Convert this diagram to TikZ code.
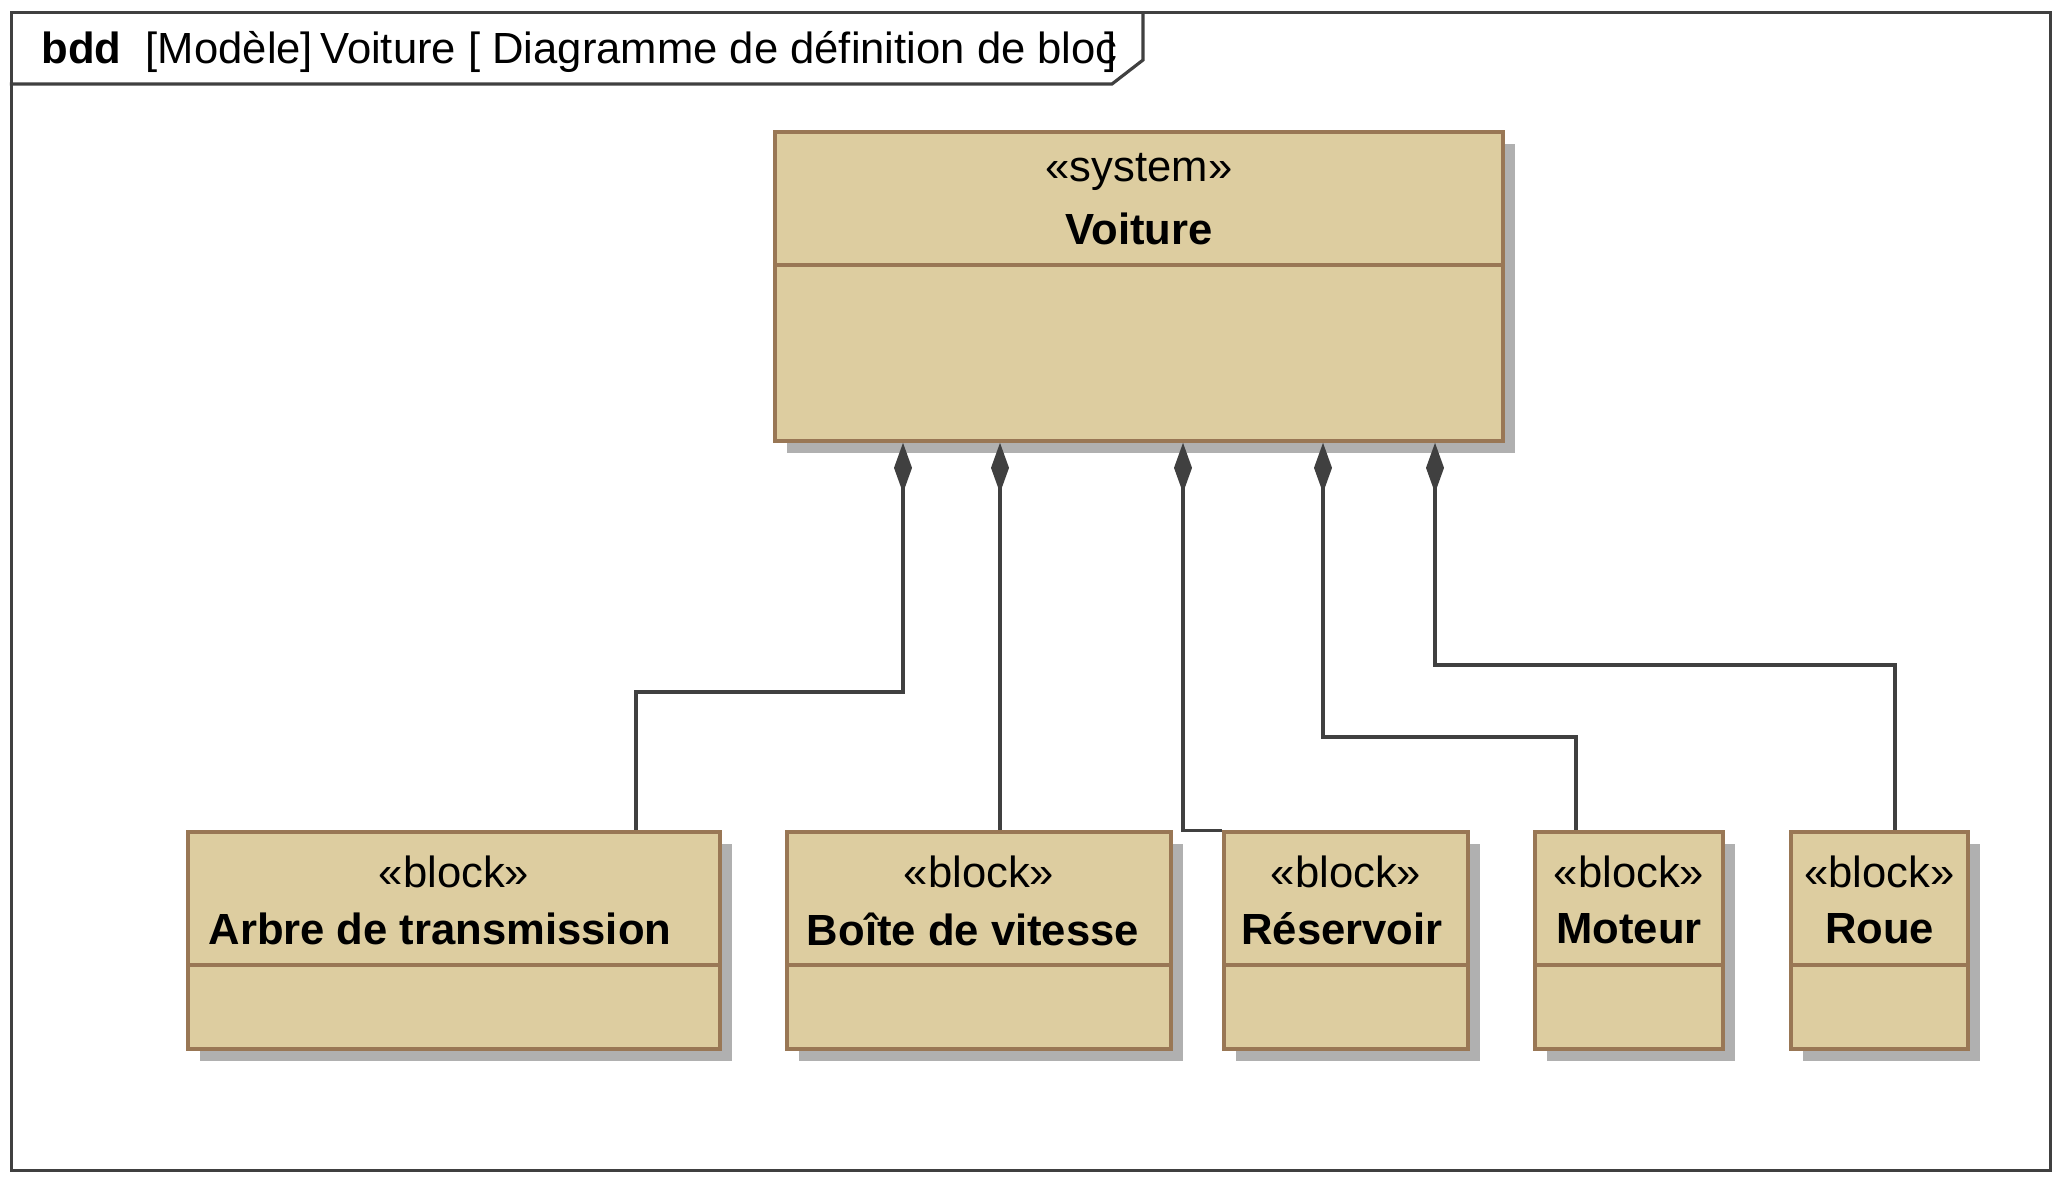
\documentclass[tikz,border=0pt]{standalone}
\usepackage{fontspec}
\setmainfont{Liberation Sans}
\usepackage{xcolor}
\usepackage{tikz}
\usetikzlibrary{arrows.meta, positioning, shadows}

\definecolor{blockfill}{RGB}{221,205,160}
\definecolor{blockborder}{RGB}{153,119,85}
\definecolor{shadowgray}{RGB}{176,176,176}
\definecolor{linegray}{RGB}{64,64,64}

\begin{document}
\begin{tikzpicture}[x=0.01cm, y=-0.01cm]
\tikzstyle{frame} = [rectangle, draw=linegray, line width=0.9pt, minimum width=20.38cm, minimum height=11.57cm, inner sep=0pt]
\tikzstyle{block} = [rectangle, draw=blockborder, fill=blockfill, line width=1pt, inner sep=0pt, minimum height=2.17cm, drop shadow={shadow xshift=0.12cm, shadow yshift=-0.12cm, fill=shadowgray, opacity=1}]
\tikzstyle{divider} = [draw=blockborder, line width=1pt]
\tikzstyle{stereo} = [font=\fontsize{12.4}{14}\selectfont, inner sep=0pt]
\tikzstyle{bname} = [font=\fontsize{12.4}{14}\selectfont\bfseries, inner sep=0pt]
\tikzstyle{comp} = [draw=linegray, line width=0.9pt, {Diamond[length=0.5cm, width=0.18cm, fill=linegray]}-]

\useasboundingbox (0,0) rectangle (2064,1188);

% Diagram frame
\node[frame] (bdd) at (1031,591.5) {};
\draw[draw=linegray, line width=0.9pt] (bdd.north west |- 0,84) -- (1112,84) -- (1143,60) -- (bdd.north west -| 1143,0);
\node[stereo, anchor=mid west] (title) at (41,54) {\textbf{bdd}\ \ [Modèle]\,Voiture [\ Diagramme de définition de bloc\hspace{-0.3em}]};

% System
\node[block, minimum width=7.28cm, minimum height=3.09cm] (voiture) at (1139,286.5) {};
\draw[divider] (voiture.west |- 0,265) -- (voiture.east |- 0,265);
\node[stereo] (voitureS) at (voiture.center |- 0,172) {«system»};
\node[bname] (voitureN) at (voiture.center |- 0,229) {Voiture};

% Blocks
\node[block, minimum width=5.32cm] (arbre) at (454,940.5) {};
\draw[divider] (arbre.west |- 0,965) -- (arbre.east |- 0,965);
\node[stereo] (arbreS) at (arbre.center |- 0,872) {«block»};
\node[bname] (arbreN) at (440,929) {Arbre de transmission};

\node[block, minimum width=3.84cm] (boite) at (979,940.5) {};
\draw[divider] (boite.west |- 0,965) -- (boite.east |- 0,965);
\node[stereo] (boiteS) at (boite.center |- 0,872) {«block»};
\node[bname] (boiteN) at (973,929) {Boîte de vitesse};

\node[block, minimum width=2.44cm] (reservoir) at (1346,940.5) {};
\draw[divider] (reservoir.west |- 0,965) -- (reservoir.east |- 0,965);
\node[stereo] (reservoirS) at (reservoir.center |- 0,872) {«block»};
\node[bname] (reservoirN) at (1342,929) {Réservoir};

\node[block, minimum width=1.88cm] (moteur) at (1629,940.5) {};
\draw[divider] (moteur.west |- 0,965) -- (moteur.east |- 0,965);
\node[stereo] (moteurS) at (moteur.center |- 0,872) {«block»};
\node[bname] (moteurN) at (moteur.center |- 0,929) {Moteur};

\node[block, minimum width=1.77cm] (roue) at (1879.5,940.5) {};
\draw[divider] (roue.west |- 0,965) -- (roue.east |- 0,965);
\node[stereo] (roueS) at (roue.center |- 0,872) {«block»};
\node[bname] (roueN) at (roue.center |- 0,929) {Roue};

% Compositions
\draw[comp] (voiture.south -| 903,0) |- (636,692) -- (arbre.north -| 636,0);
\draw[comp] (voiture.south -| 1000,0) -- (boite.north -| 1000,0);
\draw[comp] (voiture.south -| 1183,0) |- (reservoir.north west);
\draw[comp] (voiture.south -| 1323,0) |- (1576,737) -- (moteur.north -| 1576,0);
\draw[comp] (voiture.south -| 1435,0) |- (1895,665) -- (roue.north -| 1895,0);
\end{tikzpicture}
\end{document}
